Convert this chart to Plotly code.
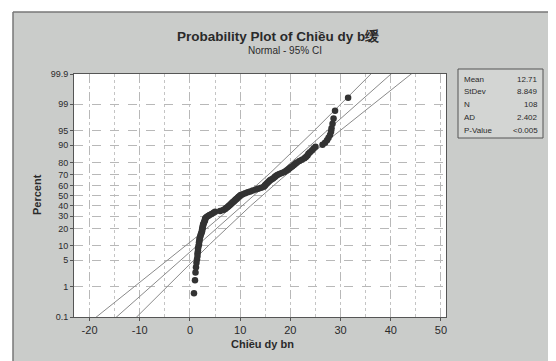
import plotly.graph_objects as go
from statistics import NormalDist
import numpy as np

values = [
    0.8, 1.0, 1.1, 1.2, 1.3, 1.4, 1.5, 1.5, 1.6, 1.6,
    1.7, 1.8, 1.8, 1.9, 1.9, 2.0, 2.1, 2.2, 2.3, 2.4,
    2.4, 2.5, 2.5, 2.6, 2.6, 2.7, 2.8, 2.9, 3.0, 3.0,
    3.1, 3.3, 3.6, 3.9, 4.3, 4.7, 5.0, 6.0, 6.6, 7.0,
    7.2, 7.5, 7.7, 7.9, 8.1, 8.3, 8.5, 8.7, 8.9, 9.1,
    9.3, 9.5, 9.7, 9.9, 10.1, 10.5, 11.0, 11.5, 12.0, 12.5,
    13.1, 13.6, 14.2, 14.7, 14.9, 15.0, 15.2, 15.4, 15.6, 15.8,
    16.0, 16.3, 16.6, 16.9, 17.1, 17.4, 17.8, 18.3, 18.8, 19.2,
    19.5, 19.8, 20.1, 20.4, 20.7, 21.0, 21.3, 21.8, 22.3, 22.8,
    23.1, 23.4, 23.6, 23.9, 24.3, 24.6, 25.0, 26.4, 26.9, 27.3,
    27.6, 27.9, 28.1, 28.2, 28.4, 28.6, 28.9, 31.5,
]
mean_val = 12.71
sd_val = 8.849
n_val = 108
stat_labels = ["Mean", "StDev", "N", "AD", "P-Value"]
stat_values = ["12.71", "8.849", "108", "2.402", "<0.005"]
pct_ticks = [0.1, 1, 5, 10, 20, 30, 40, 50, 60, 70, 80, 90, 95, 99, 99.9]
x_ticks = [-20, -10, 0, 10, 20, 30, 40, 50]

nd = NormalDist()
zq = lambda p: nd.inv_cdf(p / 100.0)

# plotting positions (median ranks)
n = len(values)
pts_z = [zq(100.0 * (i + 1 - 0.3) / (n + 0.4)) for i in range(n)]

# fitted line and 95% CI
zmin, zmax = zq(0.1), zq(99.9)
zz = np.linspace(zmin - 0.05, zmax + 0.05, 200)
fit_x = mean_val + sd_val * zz
se = sd_val * np.sqrt(1.0 / n_val + zz ** 2 / (2.0 * n_val))
lo_x = fit_x - 1.96 * se
hi_x = fit_x + 1.96 * se

OFF = 8  # page body margin
W, H = 556 - OFF, 361 - OFF
L, R, T, B = 74 - OFF, 446 - OFF, 74 - OFF, 317 - OFF
def px(x):
    return (x - OFF - L) / (R - L)
def py(y):
    return (B - (y - OFF)) / (B - T)

FONT = "Liberation Sans"
TXT = "#2a2a2a"
BG = "#caccca"
LINEC = "#8a8a8a"

fig = go.Figure()
for xs in (lo_x, fit_x, hi_x):
    fig.add_trace(go.Scatter(x=xs, y=zz, mode="lines",
                             line=dict(color=LINEC, width=1), hoverinfo="skip",
                             showlegend=False))
fig.add_trace(go.Scatter(x=values, y=pts_z, mode="markers",
                         marker=dict(color="#333333", size=6.5),
                         showlegend=False))

fig.update_xaxes(range=[-23.1, 51.0], tickvals=x_ticks,
                 ticktext=[str(v) for v in x_ticks],
                 showgrid=True, gridcolor="#b8b8b8", griddash="dash", gridwidth=1,
                 minor=dict(dtick=5, tick0=0, showgrid=True, gridcolor="#c4c4c4",
                            griddash="dot", ticks=""),
                 showline=True, linecolor="#555555", linewidth=1, mirror=True,
                 ticks="outside", ticklen=3, tickcolor="#555555",
                 tickfont=dict(family=FONT, size=11, color=TXT), zeroline=False)
fig.update_yaxes(range=[zmin, zmax], tickvals=[zq(p) for p in pct_ticks],
                 ticktext=[("%g" % p) for p in pct_ticks],
                 showgrid=True, gridcolor="#b8b8b8", griddash="dash", gridwidth=1,
                 showline=True, linecolor="#555555", linewidth=1, mirror=True,
                 ticks="outside", ticklen=3, tickcolor="#555555",
                 tickfont=dict(family=FONT, size=9, color=TXT), zeroline=False)

ann = []
ann.append(dict(text="<b>Probability Plot of Chiều dy b缓</b>", x=px(278), y=py(37),
                xref="paper", yref="paper", showarrow=False,
                font=dict(family=FONT, size=13.5, color=TXT), xanchor="center", yanchor="middle"))
ann.append(dict(text="Normal - 95% CI", x=px(285), y=py(50),
                xref="paper", yref="paper", showarrow=False,
                font=dict(family=FONT, size=10, color=TXT), xanchor="center", yanchor="middle"))
ann.append(dict(text="<b>Chiều dy bn</b>", x=px(262), y=py(344),
                xref="paper", yref="paper", showarrow=False,
                font=dict(family=FONT, size=11, color=TXT), xanchor="center", yanchor="middle"))
ann.append(dict(text="<b>Percent</b>", x=px(37), y=py(195), textangle=-90,
                xref="paper", yref="paper", showarrow=False,
                font=dict(family=FONT, size=11, color=TXT), xanchor="center", yanchor="middle"))
for k, (lab, val) in enumerate(zip(stat_labels, stat_values)):
    yy = 79 + k * 12.8
    ann.append(dict(text=lab, x=px(462), y=py(yy), xref="paper", yref="paper",
                    showarrow=False, xanchor="left", yanchor="middle",
                    font=dict(family=FONT, size=8, color=TXT)))
    ann.append(dict(text=val, x=px(540), y=py(yy), xref="paper", yref="paper",
                    showarrow=False, xanchor="right", yanchor="middle",
                    font=dict(family=FONT, size=8, color=TXT)))

shapes = [
    dict(type="rect", xref="paper", yref="paper", x0=px(0), x1=px(560), y0=py(0), y1=py(12),
         fillcolor="white", line=dict(width=0), layer="below"),
    dict(type="rect", xref="paper", yref="paper", x0=px(0), x1=px(13), y0=py(0), y1=py(365),
         fillcolor="white", line=dict(width=0), layer="below"),
    dict(type="line", xref="paper", yref="paper", x0=px(13), x1=px(560), y0=py(12), y1=py(12),
         line=dict(color="#777777", width=1.5), layer="below"),
    dict(type="line", xref="paper", yref="paper", x0=px(13), x1=px(13), y0=py(12), y1=py(365),
         line=dict(color="#777777", width=1.5), layer="below"),
    dict(type="rect", xref="paper", yref="paper", x0=px(458), x1=px(543), y0=py(138), y1=py(69),
         fillcolor="#d3d5d3", line=dict(color="#555555", width=1), layer="below"),
]

fig.update_layout(width=W, height=H, margin=dict(l=L, r=W - R, t=T, b=H - B),
                  paper_bgcolor=BG, plot_bgcolor="white",
                  annotations=ann, shapes=shapes, showlegend=False)
fig.write_html("out.html")
